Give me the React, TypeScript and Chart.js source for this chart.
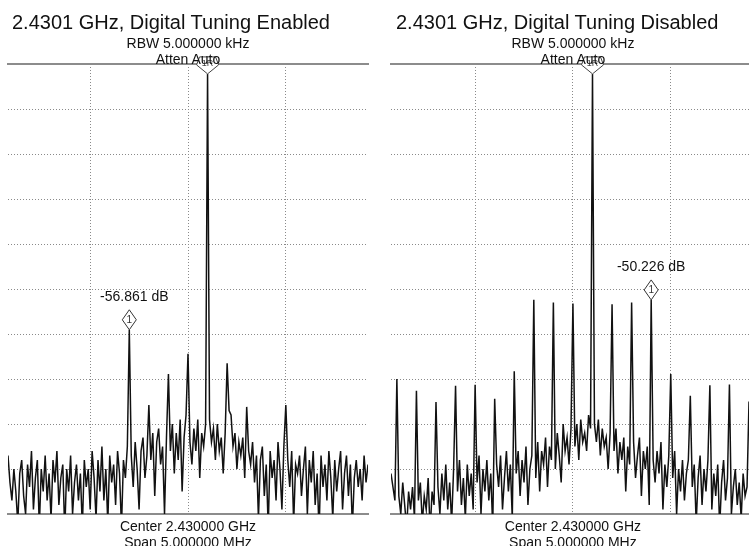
import React, { useEffect, useRef } from "react";
import { Chart, registerables } from "chart.js";

Chart.register(...registerables);

// ---- Sweep description (offset from 2.430000 GHz, in MHz) ----
const FREQ_STEP_MHZ = 0.01;
const ENABLED_START_MHZ = -0.92;
const DISABLED_START_MHZ = -0.93;
const ENABLED_RANGE_MHZ = [-0.92, 0.92];
const DISABLED_RANGE_MHZ = [-0.93, 0.9];
const X_GRID_MHZ = [-0.5, 0, 0.5];
const Y_GRID_DB = [-90, -80, -70, -60, -50, -40, -30, -20, -10];
const Y_MIN_DB = -100;
const Y_MAX_DB = 0;

// ---- Trace values (dB) ----
const ENABLED_DB = [
  -87, -93, -97, -90, -95, -102, -91, -88, -96, -100,
  -89, -94, -86, -99, -92, -88, -103, -90, -95, -87,
  -97, -91, -101, -88, -93, -86, -98, -92, -89, -104,
  -90, -95, -87, -100, -93, -89, -97, -91, -103, -88,
  -94, -90, -99, -86, -92, -101, -88, -95, -85, -97,
  -90, -102, -87, -93, -89, -98, -86, -91, -103, -88,
  -92, -85, -59.061, -87, -94, -84, -90, -99, -86, -83,
  -92, -87, -75.8, -88, -82, -96, -84, -81, -89, -85,
  -100, -83, -68.9, -86, -80, -91, -82, -88, -79, -95,
  -83, -78, -64.4, -84, -89, -81, -86, -79, -92, -82,
  -85, -80, -2.2, -79, -84, -81, -88, -80, -86, -83,
  -91, -82, -66.5, -77, -78, -85, -82, -90, -84, -87,
  -83, -92, -76.2, -86, -89, -84, -93, -87, -101, -88,
  -85, -96, -89, -103, -86, -92, -88, -97, -84, -90,
  -99, -85, -75.8, -88, -94, -86, -102, -89, -91, -87,
  -96, -90, -85, -100, -88, -93, -86, -98, -91, -104,
  -87, -94, -89, -97, -86, -92, -101, -88, -95, -90,
  -86, -99, -91, -87, -96, -89, -103, -92, -88, -94,
  -90, -97, -87, -93, -89,
];

const DISABLED_DB = [
  -91, -94, -97, -70, -96, -100, -93, -98, -103, -95,
  -99, -94, -101, -72.6, -97, -93, -102, -96, -99, -92,
  -104, -95, -98, -75.1, -94, -100, -91, -97, -89, -99,
  -93, -102, -90, -71.5, -95, -88, -98, -92, -101, -89,
  -96, -91, -99, -71.3, -93, -87, -100, -90, -95, -88,
  -97, -91, -103, -74.4, -89, -94, -87, -99, -92, -86,
  -95, -89, -101, -68.3, -91, -86, -96, -88, -93, -85,
  -98, -90, -87, -52.4, -92, -84, -95, -86, -89, -83,
  -94, -85, -88, -53.0, -90, -82, -87, -93, -80, -86,
  -83, -89, -81, -53.2, -85, -80, -88, -79, -84, -82,
  -86, -78, -81, -2.2, -80, -84, -79, -87, -81, -85,
  -83, -90, -82, -53.4, -86, -81, -91, -84, -88, -83,
  -95, -85, -89, -53.0, -84, -92, -87, -83, -96, -86,
  -90, -85, -98, -52.426, -88, -93, -86, -91, -84, -99,
  -89, -94, -87, -68.9, -92, -86, -100, -90, -95, -88,
  -97, -91, -88, -73.7, -94, -89, -102, -92, -87, -98,
  -90, -95, -88, -71.4, -99, -91, -96, -89, -103, -93,
  -88, -97, -92, -71.2, -100, -94, -90, -98, -93, -101,
  -91, -96, -94, -75,
];

const CARRIER_MHZ = 0.1;
const ENABLED_MARKER_MHZ = -0.3;
const DISABLED_MARKER_MHZ = 0.4;

const TITLES = [
  "2.4301 GHz, Digital Tuning Enabled",
  "2.4301 GHz, Digital Tuning Disabled",
];
const RBW_LABEL = "RBW 5.000000 kHz";
const ATTEN_LABEL = "Atten Auto";
const CENTER_LABEL = "Center 2.430000 GHz";
const SPAN_LABEL = "Span 5.000000 MHz";

const FONT = '"Liberation Sans", Arial, Helvetica, sans-serif';
const PAGE_H = 546;
const PLOT_TOP = 64;
const PLOT_BOTTOM_PAD = 32;

type Pt = { x: number; y: number };

function toPoints(start: number, values: number[]): Pt[] {
  return values.map((v, i) => ({
    x: Math.round((start + i * FREQ_STEP_MHZ) * 1000) / 1000,
    y: v,
  }));
}

function makeMarkerPlugin(markerMhz: number, carrierMhz: number, labelShift: number) {
  return {
    id: "markers",
    afterDatasetsDraw(chart: any) {
      const ctx: CanvasRenderingContext2D = chart.ctx;
      const xs = chart.scales.x;
      const ys = chart.scales.y;
      const pts = chart.data.datasets[0].data as Pt[];
      const find = (f: number) =>
        pts.reduce((b, p) => (Math.abs(p.x - f) < Math.abs(b.x - f) ? p : b), pts[0]);
      const m = find(markerMhz);
      const r = find(carrierMhz);
      const mx = xs.getPixelForValue(m.x);
      const my = ys.getPixelForValue(m.y);
      const rx = xs.getPixelForValue(r.x);
      const ry = ys.getPixelForValue(r.y);

      ctx.save();
      // delta marker diamond
      ctx.beginPath();
      ctx.moveTo(mx, my);
      ctx.lineTo(mx + 7, my - 10);
      ctx.lineTo(mx, my - 20);
      ctx.lineTo(mx - 7, my - 10);
      ctx.closePath();
      ctx.fillStyle = "#ffffff";
      ctx.fill();
      ctx.strokeStyle = "#333333";
      ctx.lineWidth = 1;
      ctx.stroke();
      ctx.fillStyle = "#333333";
      ctx.font = `10px ${FONT}`;
      ctx.textAlign = "center";
      ctx.textBaseline = "middle";
      ctx.fillText("1", mx, my - 10);

      ctx.fillStyle = "#111111";
      ctx.font = `14px ${FONT}`;
      ctx.textBaseline = "alphabetic";
      ctx.fillText(`${(m.y - r.y).toFixed(3)} dB`, mx + labelShift, my - 29);

      // reference marker
      ctx.beginPath();
      ctx.moveTo(rx, ry);
      ctx.lineTo(rx + 11, ry - 9);
      ctx.lineTo(rx + 8, ry - 17);
      ctx.lineTo(rx - 8, ry - 17);
      ctx.lineTo(rx - 11, ry - 9);
      ctx.closePath();
      ctx.fillStyle = "#ffffff";
      ctx.fill();
      ctx.strokeStyle = "#444444";
      ctx.stroke();
      ctx.fillStyle = "#444444";
      ctx.font = `9px ${FONT}`;
      ctx.textBaseline = "middle";
      ctx.fillText("1R", rx, ry - 10);
      ctx.restore();
    },
  };
}

type PanelProps = {
  values: number[];
  start: number;
  range: number[];
  markerMhz: number;
  labelShift: number;
  title: string;
  canvasLeft: number;
  canvasWidth: number;
  padLeft: number;
  padRight: number;
  titleLeft: number;
};

function Panel(p: PanelProps) {
  const ref = useRef<HTMLCanvasElement | null>(null);

  useEffect(() => {
    if (!ref.current) return;
    const dotted = [1, 2];
    const borderLine = { display: true, color: "#8c8c8c", width: 2 };
    const chart = new Chart(ref.current, {
      type: "line",
      data: {
        datasets: [
          {
            data: toPoints(p.start, p.values),
            borderColor: "#111111",
            borderWidth: 1.5,
            pointRadius: 0,
            tension: 0,
            fill: false,
          },
        ],
      },
      options: {
        animation: false,
        responsive: false,
        maintainAspectRatio: false,
        layout: {
          padding: { left: p.padLeft, right: p.padRight, top: PLOT_TOP, bottom: PLOT_BOTTOM_PAD },
        },
        plugins: { legend: { display: false }, tooltip: { enabled: false }, title: { display: false } },
        scales: {
          x: {
            type: "linear",
            position: "bottom",
            min: p.range[0],
            max: p.range[1],
            ticks: { display: false },
            grid: { color: "#8a8a8a", lineWidth: 1, drawTicks: false, borderDash: dotted } as any,
            border: { display: false, dash: dotted },
            afterBuildTicks: (s: any) => {
              s.ticks = X_GRID_MHZ.map((v) => ({ value: v }));
            },
          },
          xTop: {
            type: "linear",
            axis: "x",
            position: "top",
            min: p.range[0],
            max: p.range[1],
            ticks: { display: false },
            grid: { display: false, drawTicks: false },
            border: borderLine,
          },
          xBottom: {
            type: "linear",
            axis: "x",
            position: "bottom",
            min: p.range[0],
            max: p.range[1],
            ticks: { display: false },
            grid: { display: false, drawTicks: false },
            border: borderLine,
          },
          y: {
            type: "linear",
            min: Y_MIN_DB,
            max: Y_MAX_DB,
            ticks: { display: false },
            grid: { color: "#8a8a8a", lineWidth: 1, drawTicks: false, borderDash: dotted } as any,
            border: { display: false, dash: dotted },
            afterBuildTicks: (s: any) => {
              s.ticks = Y_GRID_DB.map((v) => ({ value: v }));
            },
          },
        } as any,
      },
      plugins: [makeMarkerPlugin(p.markerMhz, CARRIER_MHZ, p.labelShift)],
    });
    return () => chart.destroy();
  }, []);

  const plotLeft = p.canvasLeft + p.padLeft;
  const plotRight = p.canvasLeft + p.canvasWidth - p.padRight;
  const centerPx = plotLeft + ((0 - p.range[0]) / (p.range[1] - p.range[0])) * (plotRight - plotLeft);

  const small: React.CSSProperties = {
    position: "absolute",
    left: centerPx - 150,
    width: 300,
    textAlign: "center",
    fontSize: 14,
    lineHeight: "16px",
    color: "#111",
    whiteSpace: "nowrap",
  };

  return (
    <>
      <canvas
        ref={ref}
        width={p.canvasWidth}
        height={PAGE_H}
        style={{ position: "absolute", left: p.canvasLeft, top: 0, width: p.canvasWidth, height: PAGE_H, display: "block" }}
      />
      <div
        style={{
          position: "absolute",
          left: p.titleLeft,
          top: 12,
          fontSize: 20,
          lineHeight: "20px",
          color: "#111",
          whiteSpace: "nowrap",
        }}
      >
        {p.title}
      </div>
      <div style={{ ...small, top: 35 }}>{RBW_LABEL}</div>
      <div style={{ ...small, top: 51 }}>{ATTEN_LABEL}</div>
      <div style={{ ...small, top: 518 }}>{CENTER_LABEL}</div>
      <div style={{ ...small, top: 534 }}>{SPAN_LABEL}</div>
    </>
  );
}

export default function App() {
  return (
    <div
      style={{
        position: "absolute",
        left: 0,
        top: 0,
        width: 749,
        height: PAGE_H,
        overflow: "hidden",
        background: "#ffffff",
        fontFamily: FONT,
      }}
    >
      <Panel
        values={ENABLED_DB}
        start={ENABLED_START_MHZ}
        range={ENABLED_RANGE_MHZ}
        markerMhz={ENABLED_MARKER_MHZ}
        labelShift={5}
        title={TITLES[0]}
        canvasLeft={0}
        canvasWidth={375}
        padLeft={8}
        padRight={7}
        titleLeft={12}
      />
      <Panel
        values={DISABLED_DB}
        start={DISABLED_START_MHZ}
        range={DISABLED_RANGE_MHZ}
        markerMhz={DISABLED_MARKER_MHZ}
        labelShift={0}
        title={TITLES[1]}
        canvasLeft={383}
        canvasWidth={366}
        padLeft={8}
        padRight={0}
        titleLeft={396}
      />
    </div>
  );
}
